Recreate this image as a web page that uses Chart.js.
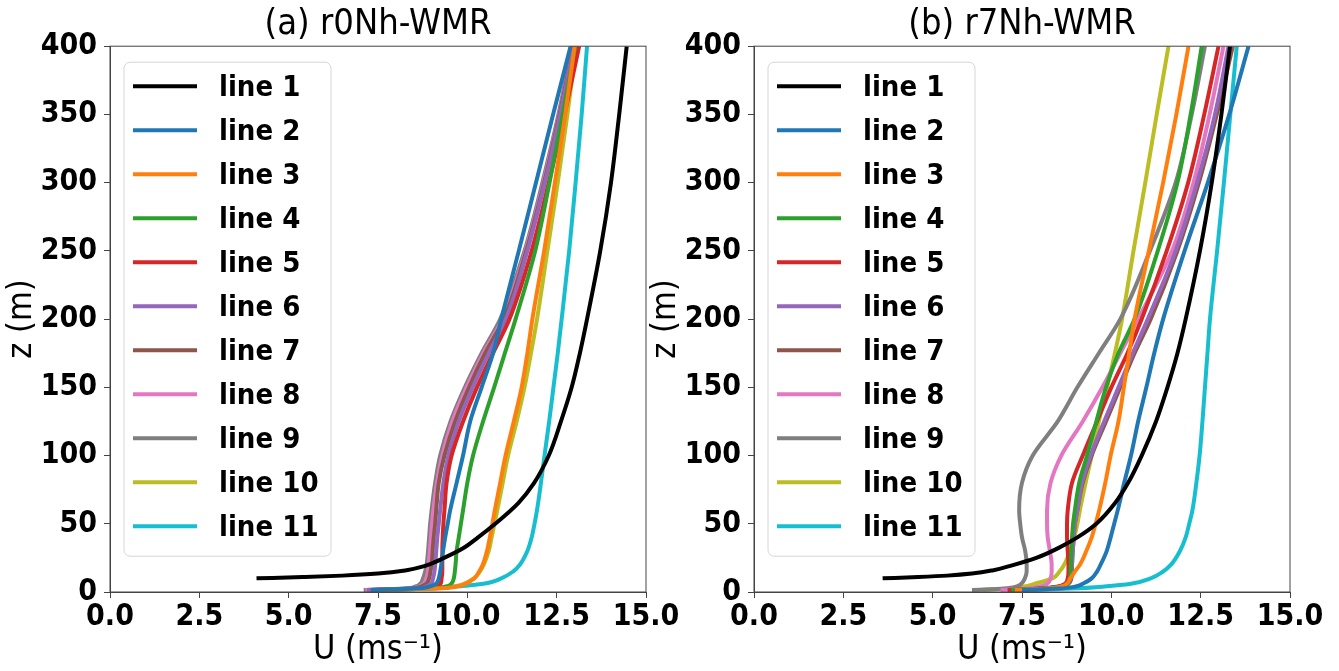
<!DOCTYPE html>
<html>
<head>
<meta charset="utf-8">
<script src="https://cdn.jsdelivr.net/npm/chart.js@4.4.1/dist/chart.umd.min.js"></script>
<style>
  html, body { margin: 0; padding: 0; background: #fff; }
  #wrap { position: relative; width: 1339px; height: 671px; overflow: hidden; }
  canvas { position: absolute; top: 0; }
  #chartA { left: 0; }
  #chartB { left: 644px; }
</style>
</head>
<body>
<div id="wrap">
  <canvas id="chartA" width="700" height="671"></canvas>
  <canvas id="chartB" width="695" height="671"></canvas>
</div>
<script>
// heights (m) shared by lines 2-11; line 1 starts higher up
const heights = [1.5, 2.5, 4, 6, 10, 15, 20, 30, 40, 50, 60, 80, 100, 125, 150, 175, 200, 250, 300, 350, 400];
const heightsLine1 = [10, 11, 12, 13.5, 16, 19, 25, 32, 40, 50, 65, 80, 100, 125, 150, 175, 200, 250, 300, 350, 400];

const lineLabels = ["line 1", "line 2", "line 3", "line 4", "line 5", "line 6", "line 7", "line 8", "line 9", "line 10", "line 11"];
const lineColors = ["#000000", "#1f77b4", "#ff7f0e", "#2ca02c", "#d62728", "#9467bd", "#8c564b", "#e377c2", "#7f7f7f", "#bcbd22", "#17becf"];

const xTicks = [0, 2.5, 5, 7.5, 10, 12.5, 15];
const yTicks = [0, 50, 100, 150, 200, 250, 300, 350, 400];

// (a) r0Nh-WMR, U in m/s
const r0Line1 = [4.1, 5.4, 6.5, 7.5, 8.3, 8.8, 9.35, 9.88, 10.3, 10.78, 11.42, 11.87, 12.28, 12.62, 12.92, 13.15, 13.35, 13.72, 14.02, 14.25, 14.46];
const r0Line2 = [7.3, 8.5, 8.95, 9.12, 9.2, 9.24, 9.27, 9.32, 9.38, 9.45, 9.52, 9.7, 9.88, 10.08, 10.4, 10.72, 10.95, 11.44, 11.92, 12.4, 12.89];
const r0Line3 = [7.5, 9.1, 9.7, 9.95, 10.2, 10.33, 10.43, 10.55, 10.63, 10.7, 10.77, 10.92, 11.07, 11.3, 11.52, 11.68, 11.82, 12.15, 12.45, 12.74, 13.0];
const r0Line4 = [7.4, 8.9, 9.4, 9.55, 9.62, 9.65, 9.67, 9.7, 9.76, 9.82, 9.88, 10.0, 10.16, 10.44, 10.75, 11.05, 11.35, 11.9, 12.3, 12.67, 13.02];
const r0Line5 = [7.3, 8.7, 9.15, 9.25, 9.28, 9.3, 9.3, 9.3, 9.31, 9.33, 9.36, 9.42, 9.56, 9.88, 10.27, 10.72, 11.18, 11.8, 12.28, 12.72, 13.13];
const r0Line6 = [7.2, 8.5, 8.85, 8.98, 9.04, 9.08, 9.1, 9.13, 9.16, 9.2, 9.24, 9.33, 9.47, 9.76, 10.15, 10.6, 11.08, 11.68, 12.17, 12.6, 12.98];
const r0Line7 = [7.2, 8.4, 8.7, 8.85, 8.93, 8.97, 9.0, 9.03, 9.06, 9.1, 9.13, 9.2, 9.36, 9.66, 10.05, 10.5, 11.02, 11.65, 12.15, 12.58, 12.97];
const r0Line8 = [7.15, 8.35, 8.65, 8.78, 8.85, 8.9, 8.92, 8.95, 8.98, 9.01, 9.05, 9.15, 9.3, 9.58, 9.98, 10.45, 10.98, 11.63, 12.13, 12.57, 12.96];
const r0Line9 = [7.1, 8.2, 8.55, 8.68, 8.76, 8.82, 8.86, 8.9, 8.93, 8.96, 9.0, 9.1, 9.24, 9.53, 9.93, 10.4, 10.92, 11.6, 12.1, 12.55, 12.94];
const r0Line10 = [7.6, 9.0, 9.6, 9.9, 10.18, 10.35, 10.46, 10.6, 10.68, 10.76, 10.84, 10.99, 11.14, 11.38, 11.6, 11.78, 11.95, 12.24, 12.53, 12.8, 13.05];
const r0Line11 = [7.8, 8.9, 9.7, 10.45, 10.95, 11.28, 11.47, 11.68, 11.8, 11.88, 11.95, 12.06, 12.16, 12.29, 12.41, 12.53, 12.64, 12.85, 13.03, 13.2, 13.35];

// (b) r7Nh-WMR
const r7Line1 = [3.6, 4.6, 5.4, 6.1, 6.7, 7.15, 7.9, 8.5, 9.05, 9.58, 10.1, 10.47, 10.85, 11.25, 11.57, 11.85, 12.08, 12.48, 12.81, 13.08, 13.32];
const r7Line2 = [7.5, 8.5, 9.0, 9.2, 9.45, 9.6, 9.7, 9.87, 9.98, 10.08, 10.18, 10.36, 10.55, 10.75, 10.98, 11.2, 11.45, 12.05, 12.7, 13.3, 13.84];
const r7Line3 = [7.3, 8.2, 8.6, 8.75, 8.85, 8.98, 9.12, 9.3, 9.45, 9.56, 9.66, 9.83, 9.98, 10.2, 10.35, 10.5, 10.65, 11.05, 11.45, 11.82, 12.16];
const r7Line4 = [7.2, 8.1, 8.6, 8.78, 8.84, 8.86, 8.87, 8.88, 8.9, 8.93, 8.98, 9.1, 9.32, 9.58, 9.85, 10.2, 10.65, 11.3, 11.85, 12.22, 12.53];
const r7Line5 = [7.1, 8.0, 8.5, 8.7, 8.78, 8.8, 8.8, 8.78, 8.76, 8.76, 8.78, 8.9, 9.2, 9.6, 10.0, 10.45, 10.85, 11.55, 12.15, 12.6, 13.0];
const r7Line6 = [7.1, 8.0, 8.55, 8.78, 8.86, 8.88, 8.9, 8.92, 8.95, 8.98, 9.05, 9.18, 9.42, 9.8, 10.2, 10.6, 11.02, 11.8, 12.4, 12.9, 13.28];
const r7Line7 = [7.2, 8.1, 8.6, 8.8, 8.88, 8.9, 8.9, 8.92, 8.95, 8.98, 9.05, 9.2, 9.45, 9.85, 10.25, 10.65, 11.1, 11.85, 12.45, 12.95, 13.4];
const r7Line8 = [6.9, 7.6, 8.0, 8.2, 8.3, 8.33, 8.33, 8.28, 8.22, 8.2, 8.2, 8.3, 8.6, 9.2, 9.75, 10.25, 10.75, 11.7, 12.3, 12.75, 13.14];
const r7Line9 = [6.1, 7.0, 7.35, 7.48, 7.58, 7.63, 7.63, 7.59, 7.5, 7.45, 7.42, 7.5, 7.8, 8.5, 9.05, 9.65, 10.25, 11.08, 11.8, 12.25, 12.62];
const r7Line10 = [6.4, 7.1, 7.55, 7.85, 8.35, 8.55, 8.68, 8.84, 8.96, 9.05, 9.12, 9.28, 9.45, 9.65, 9.88, 10.1, 10.3, 10.62, 10.95, 11.27, 11.6];
const r7Line11 = [7.8, 8.9, 9.8, 10.55, 11.1, 11.45, 11.67, 11.92, 12.08, 12.18, 12.27, 12.38, 12.47, 12.55, 12.62, 12.69, 12.76, 12.96, 13.15, 13.33, 13.51];

const FONT = "'DejaVu Sans Condensed', 'DejaVu Sans', sans-serif";
const frameColor = "#444";

// legend box drawn inside the axes, top-left, like matplotlib's
const boxLegend = {
  id: "boxLegend",
  afterDatasetsDraw(chart) {
    const { ctx, chartArea } = chart;
    ctx.save();
    // top and right spines
    ctx.strokeStyle = frameColor;
    ctx.lineWidth = 1;
    ctx.strokeRect(chartArea.left, chartArea.top, chartArea.right - chartArea.left, chartArea.bottom - chartArea.top);

    const x0 = chartArea.left + 14;
    const y0 = chartArea.top + 16;
    ctx.fillStyle = "rgba(255,255,255,0.85)";
    ctx.strokeStyle = "#d6d6d6";
    ctx.beginPath();
    if (ctx.roundRect) ctx.roundRect(x0, y0, 207, 494, 6);
    else ctx.rect(x0, y0, 207, 494);
    ctx.fill();
    ctx.stroke();

    ctx.font = `bold 29px ${FONT}`;
    ctx.textBaseline = "middle";
    chart.data.datasets.forEach((ds, i) => {
      const y = y0 + 24 + i * 44;
      ctx.strokeStyle = ds.borderColor;
      ctx.lineWidth = 4;
      ctx.beginPath();
      ctx.moveTo(x0 + 9, y);
      ctx.lineTo(x0 + 73, y);
      ctx.stroke();
      ctx.fillStyle = "#000";
      ctx.fillText(ds.label, x0 + 95, y + 2);
    });
    ctx.restore();
  },
};

function buildDatasets(series) {
  return series.map((u, i) => {
    const zs = i === 0 ? heightsLine1 : heights;
    return {
      label: lineLabels[i],
      data: zs.map((z, k) => ({ x: u[k], y: z })),
      borderColor: lineColors[i],
      backgroundColor: lineColors[i],
      borderWidth: 4,
      pointRadius: 0,
      showLine: true,
      cubicInterpolationMode: "monotone",
      fill: false,
    };
  });
}

function makeProfileChart(canvasId, title, series, padRight) {
  const canvas = document.getElementById(canvasId);
  return new Chart(canvas.getContext("2d"), {
    type: "scatter",
    data: { datasets: buildDatasets(series) },
    options: {
      responsive: false,
      animation: false,
      indexAxis: "y", // height is the independent variable
      layout: { padding: { left: 0, right: padRight, top: 0, bottom: 0 } },
      scales: {
        x: {
          type: "linear",
          axis: "x",
          position: "bottom",
          min: xTicks[0],
          max: xTicks[xTicks.length - 1],
          afterBuildTicks: (axis) => { axis.ticks = xTicks.map((v) => ({ value: v })); },
          afterFit: (axis) => { axis.height = 79; },
          ticks: {
            callback: (v) => v.toFixed(1),
            color: "#000",
            font: { family: FONT, size: 30, weight: "bold" },
            padding: 1,
            maxRotation: 0,
            autoSkip: false,
          },
          grid: { drawOnChartArea: false, drawTicks: true, tickLength: 6, color: frameColor },
          border: { display: true, color: frameColor, width: 1 },
          title: {
            display: true,
            text: "U (ms\u207B\u00B9)",
            color: "#000",
            font: { family: FONT, size: 34, weight: "normal" },
            padding: { top: 0, bottom: 0 },
          },
        },
        y: {
          type: "linear",
          axis: "y",
          position: "left",
          min: yTicks[0],
          max: yTicks[yTicks.length - 1],
          afterBuildTicks: (axis) => { axis.ticks = yTicks.map((v) => ({ value: v })); },
          afterFit: (axis) => { axis.width = 110; },
          ticks: {
            color: "#000",
            font: { family: FONT, size: 30, weight: "bold" },
            padding: 7,
            autoSkip: false,
          },
          grid: { drawOnChartArea: false, drawTicks: true, tickLength: 6, color: frameColor },
          border: { display: true, color: frameColor, width: 1 },
          title: {
            display: true,
            text: "z (m)",
            color: "#000",
            font: { family: FONT, size: 34, weight: "normal" },
            padding: { top: 2, bottom: 0 },
          },
        },
      },
      plugins: {
        legend: { display: false },
        tooltip: { enabled: false },
        title: {
          display: true,
          text: title,
          fullSize: false,
          color: "#000",
          font: { family: FONT, size: 36, weight: "normal", lineHeight: 1.2 },
          padding: { top: 3, bottom: 0 },
        },
      },
    },
    plugins: [boxLegend],
  });
}

makeProfileChart("chartA", "(a) r0Nh-WMR",
  [r0Line1, r0Line2, r0Line3, r0Line4, r0Line5, r0Line6, r0Line7, r0Line8, r0Line9, r0Line10, r0Line11], 54);
makeProfileChart("chartB", "(b) r7Nh-WMR",
  [r7Line1, r7Line2, r7Line3, r7Line4, r7Line5, r7Line6, r7Line7, r7Line8, r7Line9, r7Line10, r7Line11], 49);
</script>
</body>
</html>
